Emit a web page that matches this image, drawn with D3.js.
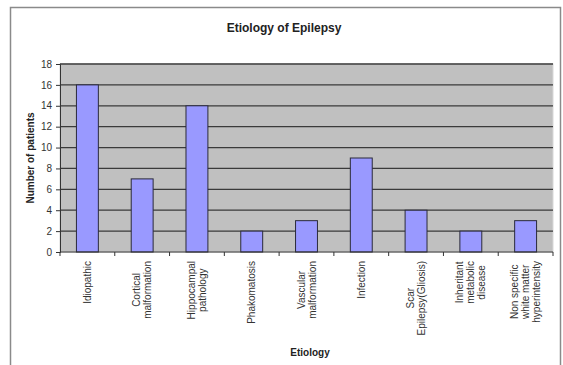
<!DOCTYPE html>
<html>
<head>
<meta charset="utf-8">
<script src="https://cdn.jsdelivr.net/npm/d3@7"></script>
<style>
  body { margin: 0; background: #fff; }
  text { font-family: "Liberation Sans", Arial, sans-serif; }
</style>
</head>
<body>
<div id="container"></div>
<script>
// data
var categories = [
  ["Idiopathic"],
  ["Cortical", "malformation"],
  ["Hippocampal", "pathology"],
  ["Phakomatosis"],
  ["Vascular", "malformation"],
  ["Infection"],
  ["Scar", "Epilepsy(Gliosis)"],
  ["Inheritant", "metabolic", "disease"],
  ["Non specific", "white matter", "hyperintensity"]
];
var patients = [16, 7, 14, 2, 3, 9, 4, 2, 3];
var yTicks = [0, 2, 4, 6, 8, 10, 12, 14, 16, 18];

var width = 563, height = 365;
var plot = { left: 60, right: 553, top: 64, bottom: 252 };

var svg = d3.select("#container").append("svg")
  .attr("width", width)
  .attr("height", height);

// chart frame
svg.append("rect")
  .attr("x", 10.5).attr("y", 7.5)
  .attr("width", 550).attr("height", 370)
  .attr("fill", "#fff")
  .attr("stroke", "#8a8a8a")
  .attr("stroke-width", 1.5);

var x = d3.scaleBand()
  .domain(d3.range(categories.length))
  .range([plot.left, plot.right])
  .paddingInner(0.6)
  .paddingOuter(0.3);

var y = d3.scaleLinear()
  .domain([0, 18])
  .range([plot.bottom, plot.top]);

// plot area
svg.append("rect")
  .attr("x", plot.left).attr("y", plot.top)
  .attr("width", plot.right - plot.left)
  .attr("height", plot.bottom - plot.top)
  .attr("fill", "#c0c0c0")
  .attr("stroke", "#d8d8d8");

// gridlines
svg.append("g")
  .selectAll("line")
  .data(yTicks.filter(function(d){ return d > 0; }))
  .enter().append("line")
  .attr("x1", plot.left).attr("x2", plot.right)
  .attr("y1", function(d){ return y(d); })
  .attr("y2", function(d){ return y(d); })
  .attr("stroke", "#3a3a3a")
  .attr("stroke-width", 1.3);

// bars
svg.append("g")
  .selectAll("rect")
  .data(patients)
  .enter().append("rect")
  .attr("x", function(d, i){ return x(i); })
  .attr("y", function(d){ return y(d); })
  .attr("width", x.bandwidth())
  .attr("height", function(d){ return y(0) - y(d); })
  .attr("fill", "#9999ff")
  .attr("stroke", "#2a2a3a")
  .attr("stroke-width", 1);

// y axis
var yAxis = svg.append("g")
  .attr("transform", "translate(" + plot.left + ",0)")
  .call(d3.axisLeft(y).tickValues(yTicks).tickSize(4).tickPadding(4));
yAxis.select(".domain").attr("stroke", "#333");
yAxis.selectAll(".tick line").attr("stroke", "#333");
yAxis.selectAll("text").style("font-size", "10px").attr("fill", "#333");

// x axis line and ticks between categories
var step = x.step();
svg.append("line")
  .attr("x1", plot.left).attr("x2", plot.right)
  .attr("y1", plot.bottom).attr("y2", plot.bottom)
  .attr("stroke", "#333");
svg.append("g")
  .selectAll("line")
  .data(d3.range(categories.length + 1))
  .enter().append("line")
  .attr("x1", function(i){ return plot.left + i * (plot.right - plot.left) / categories.length; })
  .attr("x2", function(i){ return plot.left + i * (plot.right - plot.left) / categories.length; })
  .attr("y1", plot.bottom).attr("y2", plot.bottom + 4)
  .attr("stroke", "#333");

// rotated category labels, lines centred on each other, block top-aligned at the axis
var lineH = 11;
categories.forEach(function(lines, i){
  var cx = x(i) + x.bandwidth() / 2;
  var g = svg.append("g")
    .attr("transform", "translate(" + cx + "," + (plot.bottom + 9) + ") rotate(-90)");
  var texts = lines.map(function(s, k){
    return g.append("text")
      .attr("y", (k - (lines.length - 1) / 2) * lineH + 3.5)
      .attr("text-anchor", "middle")
      .style("font-size", "10px")
      .attr("fill", "#333")
      .text(s);
  });
  var maxLen = d3.max(texts, function(t){ return t.node().getComputedTextLength(); });
  texts.forEach(function(t){ t.attr("x", -maxLen / 2); });
});

// titles
svg.append("text")
  .attr("x", 284).attr("y", 32)
  .attr("text-anchor", "middle")
  .style("font-size", "12px").style("font-weight", "bold")
  .attr("fill", "#222")
  .text("Etiology of Epilepsy");

svg.append("text")
  .attr("transform", "translate(34," + ((plot.top + plot.bottom) / 2) + ") rotate(-90)")
  .attr("text-anchor", "middle")
  .style("font-size", "10px").style("font-weight", "bold")
  .attr("fill", "#222")
  .text("Number of patients");

svg.append("text")
  .attr("x", 310).attr("y", 356)
  .attr("text-anchor", "middle")
  .style("font-size", "10px").style("font-weight", "bold")
  .attr("fill", "#222")
  .text("Etiology");
</script>
</body>
</html>
